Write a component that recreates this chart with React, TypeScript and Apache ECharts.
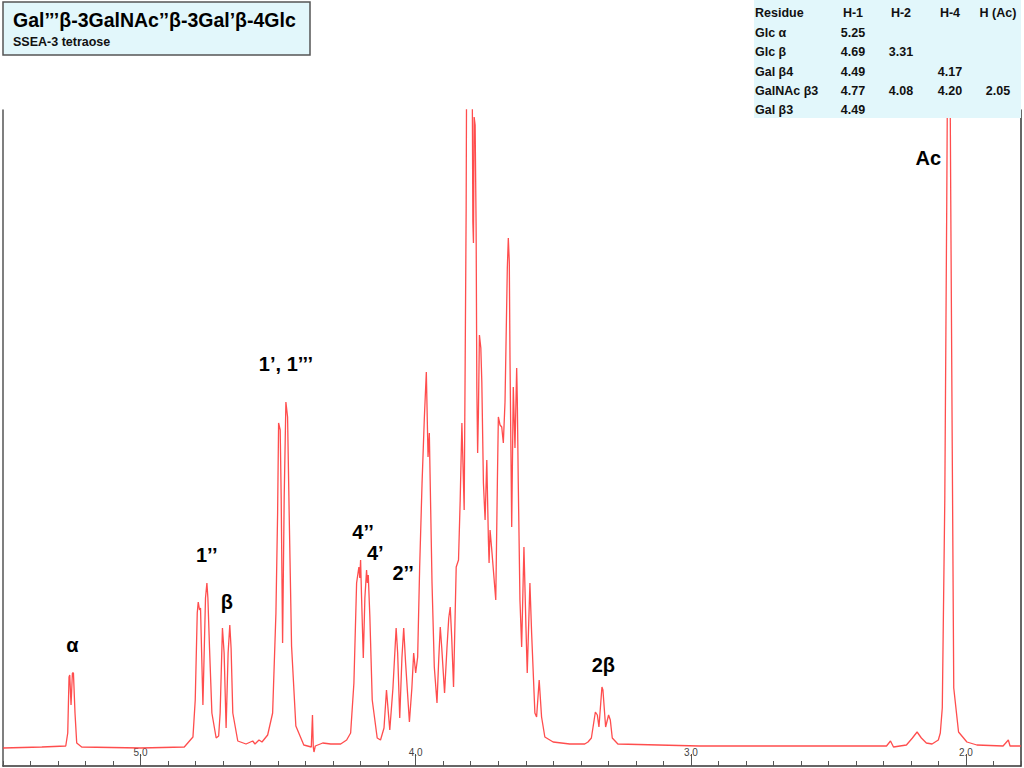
import React, { useEffect, useRef } from "react";
import * as echarts from "echarts";

// ---- spectrum: chemical shift (ppm) and intensity (baseline = 0) ----
const shiftPpm: number[] = [
  5.5, 5.3588, 5.2719, 5.2647, 5.26, 5.2574, 5.2527, 5.2477, 5.244, 5.2383, 5.2321, 5.214,
  5.0, 4.8411, 4.8096, 4.8013, 4.794, 4.7904, 4.7857, 4.7821, 4.7734, 4.764, 4.7589, 4.7553,
  4.7495, 4.7408, 4.7253, 4.7162, 4.7108, 4.7024, 4.6963, 4.6891, 4.6818, 4.6757, 4.671, 4.6648,
  4.6467, 4.6167, 4.5924, 4.5841, 4.5696, 4.5587, 4.5381, 4.52, 4.508, 4.5019, 4.4983, 4.4925,
  4.4889, 4.4838, 4.478, 4.4718, 4.4657, 4.4599, 4.4512, 4.4356, 4.4067, 4.3795, 4.3752, 4.3723,
  4.3697, 4.365, 4.3379, 4.3089, 4.2727, 4.251, 4.2365, 4.2246, 4.2148, 4.2065, 4.2032, 4.2003,
  4.1967, 4.1905, 4.1847, 4.1786, 4.1757, 4.1724, 4.1666, 4.158, 4.1399, 4.1279, 4.1152, 4.1062,
  4.0942, 4.0827, 4.0711, 4.0656, 4.058, 4.0501, 4.0436, 4.0367, 4.0229, 4.0139, 4.0074, 4.0001,
  3.9929, 3.9856, 3.9769, 3.9686, 3.9614, 3.9552, 3.9505, 3.9407, 3.9324, 3.9226, 3.9161, 3.9107,
  3.9053, 3.8951, 3.8864, 3.8799, 3.8745, 3.8691, 3.8625, 3.8528, 3.8444, 3.8383, 3.8321, 3.8238,
  3.8202, 3.8166, 3.814, 3.8057, 3.7959, 3.7923, 3.7901, 3.7876, 3.784, 3.7804, 3.7778, 3.7749,
  3.772, 3.7684, 3.7633, 3.7597, 3.7539, 3.7478, 3.7416, 3.7358, 3.7333, 3.7297, 3.7235, 3.7177,
  3.709, 3.7032, 3.6996, 3.6935, 3.6873, 3.6815, 3.6754, 3.667, 3.6634, 3.6598, 3.6573, 3.6511,
  3.6453, 3.6392, 3.633, 3.6308, 3.6272, 3.6211, 3.6149, 3.6066, 3.5993, 3.5946, 3.5849, 3.5787,
  3.5668, 3.5606, 3.5512, 3.5425, 3.5306, 3.5005, 3.4401, 3.3857, 3.3738, 3.3615, 3.347, 3.3398,
  3.334, 3.3231, 3.3195, 3.3097, 3.2989, 3.2927, 3.2855, 3.2652, 2.9694, 2.6074, 2.2888, 2.2743,
  2.2634, 2.2164, 2.1947, 2.1777, 2.1621, 2.144, 2.1233, 2.1005, 2.0933, 2.0861, 2.077, 2.0698,
  2.0625, 2.0553, 2.0499, 2.0444, 2.027, 1.9966, 1.9604, 1.8652, 1.846, 1.8399, 1.8,
];
const intensity: number[] = [
  0, 1, 2, 15, 71, 73, 43, 75, 75, 35, 5, 1,
  0, 1, 11, 48, 135, 146, 138, 140, 43, 150, 165, 150,
  101, 35, 10, 12, 35, 120, 95, 20, 95, 123, 100, 35,
  7, 4, 7, 4, 8, 6, 13, 35, 135, 235, 325, 318,
  250, 105, 250, 346, 331, 235, 102, 22, 3, 1, 33, 1,
  -4, 2, 5, 4, 4, 8, 15, 65, 165, 181, 170, 188,
  150, 90, 150, 178, 165, 173, 131, 48, 10, 8, 20, 58,
  18, 60, 120, 95, 30, 90, 120, 85, 26, 60, 95, 75,
  91, 181, 265, 330, 376, 291, 315, 165, 81, 45, 90, 121,
  100, 55, 100, 130, 141, 110, 61, 181, 188, 248, 325, 238,
  386, 540, 760, 680, 760, 526, 505, 631, 623, 520, 360, 295,
  336, 413, 400, 366, 265, 228, 288, 208, 185, 218, 198, 178,
  148, 265, 331, 323, 321, 305, 346, 480, 510, 486, 390, 221,
  361, 300, 380, 350, 265, 148, 101, 201, 121, 75, 165, 115,
  35, 31, 68, 31, 11, 6, 4, 4, 6, 10, 36, 33,
  21, 61, 58, 21, 33, 28, 10, 4, 2, 2, 2, 7,
  1, 3, 10, 16, 10, 5, 4, 8, 15, 40, 248, 548,
  900, 548, 300, 60, 16, 6, 3, 2, 8, 2, 2,
];

// ---- peak assignments ----
const peakLabelText: string[] = ["α", "1’’", "β", "1’, 1’’’", "4’’", "4’", "2’’", "2β", "Ac"];
const peakLabelPpm: number[] = [5.2477, 4.7596, 4.6865, 4.4718, 4.1913, 4.1471, 4.0457, 3.318, 2.1367];
const peakLabelHeight: number[] = [103, 193, 146, 384, 216, 195, 175, 83, 590];

// ---- axis ticks ----
const majorTicks: number[] = [2, 3, 4, 5];

// ---- titles ----
const titleText = "Gal’’’β-3GalNAc’’β-3Gal’β-4Glc";
const subtitleText = "SSEA-3 tetraose";

// ---- assignment table ----
const tableHeader: string[] = ["Residue", "H-1", "H-2", "H-4", "H (Ac)"];
const tableResidues: string[] = ["Glc α", "Glc β", "Gal β4", "GalNAc β3", "Gal β3"];
const tableH1: string[] = ["5.25", "4.69", "4.49", "4.77", "4.49"];
const tableH2: string[] = ["", "3.31", "", "4.08", ""];
const tableH4: string[] = ["", "", "4.17", "4.20", ""];
const tableHAc: string[] = ["", "", "", "2.05", ""];

const FONT = "'Liberation Sans', Arial, Helvetica, sans-serif";
const CYAN = "#e2f7fb";

export default function App() {
  const ref = useRef<HTMLDivElement>(null);

  useEffect(() => {
    if (!ref.current) return;
    const chart = echarts.init(ref.current, undefined, { renderer: "svg" });

    const lineData = shiftPpm.map((p, i) => [p, intensity[i]]);
    const labelData = peakLabelText.map((t, i) => ({
      name: t,
      value: [peakLabelPpm[i], peakLabelHeight[i]],
    }));

    // table graphics
    const colX = [755, 853, 901, 950, 998];
    const rowY = [13, 32.5, 52, 71.5, 91, 110];
    const tableCols = [tableResidues, tableH1, tableH2, tableH4, tableHAc];
    const tableTexts: any[] = [];
    const cellStyle = (text: string, c: number) => ({
      text,
      font: `bold 12.5px ${FONT}`,
      fill: "#111",
      align: c === 0 ? "left" : "center",
      verticalAlign: "middle",
    });
    tableHeader.forEach((h, c) => {
      tableTexts.push({ type: "text", z: 101, x: colX[c], y: rowY[0], style: cellStyle(h, c) });
    });
    tableCols.forEach((col, c) => {
      col.forEach((v, r) => {
        if (!v) return;
        tableTexts.push({ type: "text", z: 101, x: colX[c], y: rowY[r + 1], style: cellStyle(v, c) });
      });
    });

    chart.setOption({
      animation: false,
      backgroundColor: "#ffffff",
      grid: { left: 1, right: 1, top: 110, bottom: 2, containLabel: false },
      xAxis: [
        {
          type: "value",
          min: 1.8,
          max: 5.5,
          interval: 0.1,
          inverse: true,
          axisLine: { show: true, onZero: false, lineStyle: { color: "#333", width: 1.5 } },
          axisTick: { show: true, inside: true, length: 5, lineStyle: { color: "#555", width: 1 } },
          axisLabel: {
            show: true,
            inside: true,
            margin: 9,
            fontSize: 10,
            fontFamily: FONT,
            color: "#444",
            formatter: (v: number) =>
              majorTicks.some((m) => Math.abs(m - v) < 1e-6) ? v.toFixed(1) : "",
          },
          splitLine: { show: false },
        },
        {
          type: "value",
          min: 1.8,
          max: 5.5,
          inverse: true,
          position: "bottom",
          axisLine: { show: false, onZero: false },
          axisTick: {
            show: true,
            inside: true,
            length: 12,
            customValues: majorTicks,
            lineStyle: { color: "#555", width: 1 },
          },
          axisLabel: { show: false },
          splitLine: { show: false },
        },
      ],
      yAxis: [
        {
          type: "value",
          min: -18,
          max: 638,
          axisLine: { show: true, onZero: false, lineStyle: { color: "#555", width: 1.5 } },
          axisTick: { show: false },
          axisLabel: { show: false },
          splitLine: { show: false },
        },
        {
          type: "value",
          min: -18,
          max: 638,
          position: "right",
          axisLine: { show: true, onZero: false, lineStyle: { color: "#333", width: 1.5 } },
          axisTick: { show: false },
          axisLabel: { show: false },
          splitLine: { show: false },
        },
      ],
      series: [
        {
          type: "line",
          data: lineData,
          xAxisIndex: 0,
          yAxisIndex: 0,
          showSymbol: false,
          symbol: "none",
          clip: true,
          lineStyle: { color: "#ff3a3a", width: 1.3, opacity: 0.9 },
          z: 2,
        },
        {
          type: "scatter",
          data: labelData,
          xAxisIndex: 0,
          yAxisIndex: 0,
          symbolSize: 0,
          itemStyle: { opacity: 1 },
          label: {
            show: true,
            position: "inside",
            formatter: "{b}",
            fontSize: 20,
            fontWeight: "bold",
            fontFamily: FONT,
            color: "#000",
            opacity: 1,
          },
          z: 3,
        },
      ],
      graphic: [
        {
          type: "rect",
          z: 100,
          shape: { x: 3, y: 2, width: 307, height: 53 },
          style: { fill: CYAN, stroke: "#555", lineWidth: 1.5 },
        },
        {
          type: "text",
          z: 101,
          x: 13,
          y: 20,
          style: {
            text: titleText,
            font: `bold 19.5px ${FONT}`,
            fill: "#000",
            verticalAlign: "middle",
          },
        },
        {
          type: "text",
          z: 101,
          x: 13,
          y: 42,
          style: {
            text: subtitleText,
            font: `bold 12.5px ${FONT}`,
            fill: "#111",
            verticalAlign: "middle",
          },
        },
        {
          type: "rect",
          z: 100,
          shape: { x: 754, y: 0, width: 267, height: 118 },
          style: { fill: CYAN },
        },
        ...tableTexts,
      ],
    });

    return () => chart.dispose();
  }, []);

  return (
    <div
      ref={ref}
      style={{ position: "absolute", left: 0, top: 0, width: 1024, height: 768 }}
    />
  );
}
